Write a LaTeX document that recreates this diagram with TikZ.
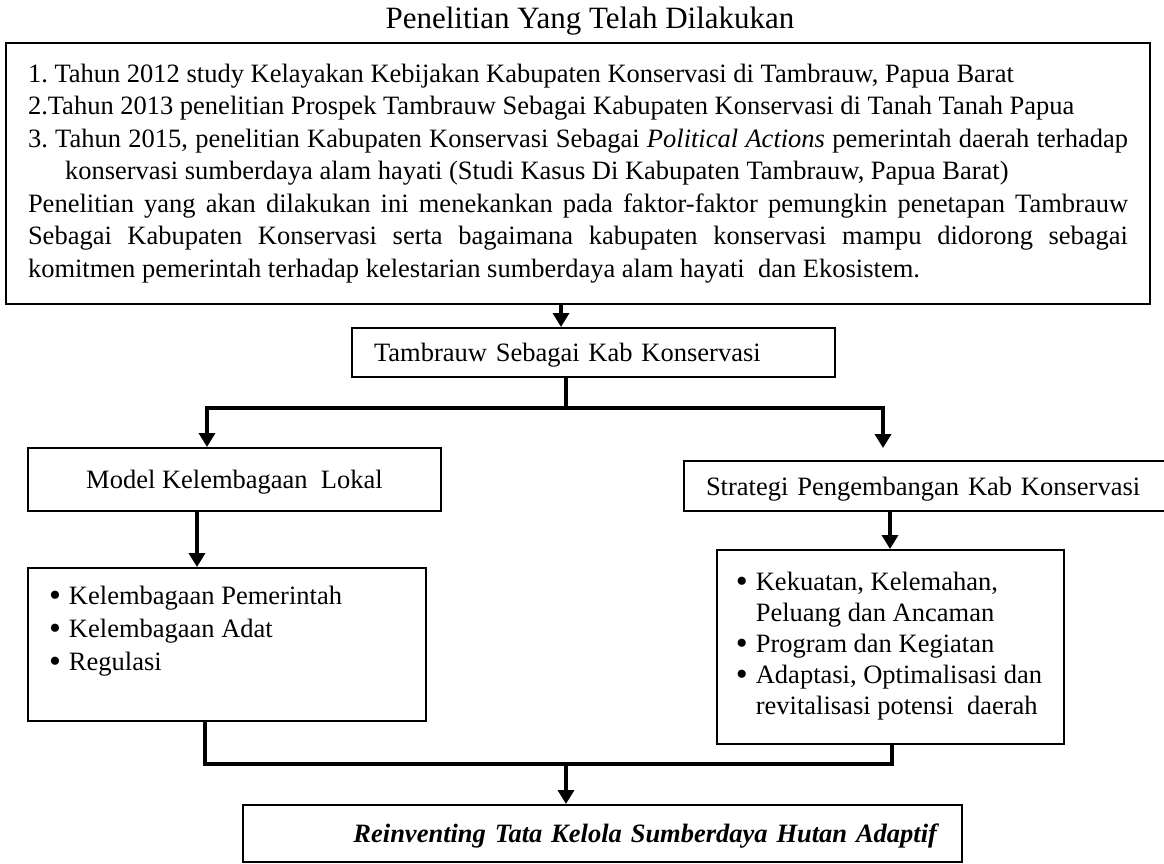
\documentclass[tikz,border=0pt]{standalone}
\usepackage{fontspec}
\setmainfont{Liberation Serif}
\usetikzlibrary{arrows.meta}
\frenchspacing
\newcommand\bodysize{\fontsize{26.5}{32.5}\selectfont}
\newcommand\blt{\makebox[17pt][l]{\hspace{-3pt}\raisebox{-2pt}{\fontsize{34}{34}\selectfont\textbullet}}}

\begin{document}
\begin{tikzpicture}[x=1pt,y=-1pt,
  box/.style={draw,line width=2pt,font=\bodysize,inner ysep=0pt},
  oneline/.style={box,text height=18pt,text depth=0pt},
  link/.style={line width=4pt},
  arr/.style={link,-{Triangle[length=14pt,width=16pt]}}]
\useasboundingbox (0,0) rectangle (1164,863);
\node[font=\fontsize{31}{36}\selectfont,anchor=base] (title) at (590,28) {Penelitian Yang Telah Dilakukan};
\node[box,text width=1100pt,align=justify,inner xsep=22pt,minimum height=261pt] (prior) at (578,173.5) {\parindent=0pt\parskip=0pt
1. Tahun 2012 study Kelayakan Kebijakan Kabupaten Konservasi di Tambrauw, Papua Barat\par
2.Tahun 2013 penelitian Prospek Tambrauw Sebagai Kabupaten Konservasi di Tanah Tanah Papua\par
\hangindent=37pt\hangafter=1 3. Tahun 2015, penelitian Kabupaten Konservasi Sebagai \textit{Political Actions} pemerintah daerah terhadap\linebreak konservasi sumberdaya alam hayati (Studi Kasus Di Kabupaten Tambrauw, Papua Barat)\par
Penelitian yang akan dilakukan ini menekankan pada faktor-faktor pemungkin penetapan Tambrauw\linebreak Sebagai Kabupaten Konservasi serta bagaimana kabupaten konservasi mampu didorong sebagai\linebreak komitmen pemerintah terhadap kelestarian sumberdaya alam hayati\ \ dan Ekosistem.};
\node[oneline,text width=439pt,align=left,inner xsep=22pt,minimum height=49pt] (tamb) at (593.5,352.5) {Tambrauw Sebagai Kab Konservasi};
\node[oneline,minimum width=413pt,minimum height=63pt] (model) at (234.5,479.5) {Model Kelembagaan\ \ Lokal};
\node[oneline,text width=438pt,align=left,inner xsep=22pt,minimum height=50pt] (strat) at (925,486) {Strategi Pengembangan Kab Konservasi};
\node[box,anchor=north west,minimum width=398pt,text height=36pt,text depth=117pt] (llist) at (27,567) {\fontsize{26.5}{33}\selectfont
  \begin{tabular}[t]{@{}l@{}p{333pt}@{}}
  \blt & Kelembagaan Pemerintah\\
  \blt & Kelembagaan Adat\\
  \blt & Regulasi
  \end{tabular}};
\node[box,anchor=north west,minimum width=347pt,text height=40pt,text depth=154pt] (rlist) at (716,549) {\fontsize{26.5}{31}\selectfont
  \begin{tabular}[t]{@{}l@{}l@{}}
  \blt & Kekuatan, Kelemahan,\\
       & Peluang dan Ancaman\\
  \blt & Program dan Kegiatan\\
  \blt & Adaptasi, Optimalisasi dan\\
       & revitalisasi potensi\ \ daerah
  \end{tabular}};
\node[oneline,font=\bodysize\bfseries\itshape,text width=669pt,align=right,inner xsep=25pt,minimum height=57pt] (final) at (602.5,833.5) {Reinventing Tata Kelola Sumberdaya Hutan Adaptif};
\coordinate (in1) at ([xshift=-17pt]prior.south);
\draw[arr] (in1) -- (in1 |- tamb.north);
\coordinate (fork) at (566,408);
\draw[link] (fork |- tamb.south) -- (fork);
\draw[arr] (fork) -| ([xshift=-27.5pt]model.north);
\draw[arr,shorten >=12pt] (fork) -| ([xshift=-42pt]strat.north);
\coordinate (m1) at ([xshift=-37.5pt]model.south);
\draw[arr] (m1) -- (m1 |- llist.north);
\coordinate (s1) at ([xshift=-35pt]strat.south);
\draw[arr] (s1) -- (s1 |- rlist.north);
\coordinate (join) at (566,764);
\draw[link] ([xshift=-22pt]llist.south) |- (join) -| ([xshift=1.5pt]rlist.south);
\draw[arr] (join) -- (join |- final.north);
\end{tikzpicture}
\end{document}
